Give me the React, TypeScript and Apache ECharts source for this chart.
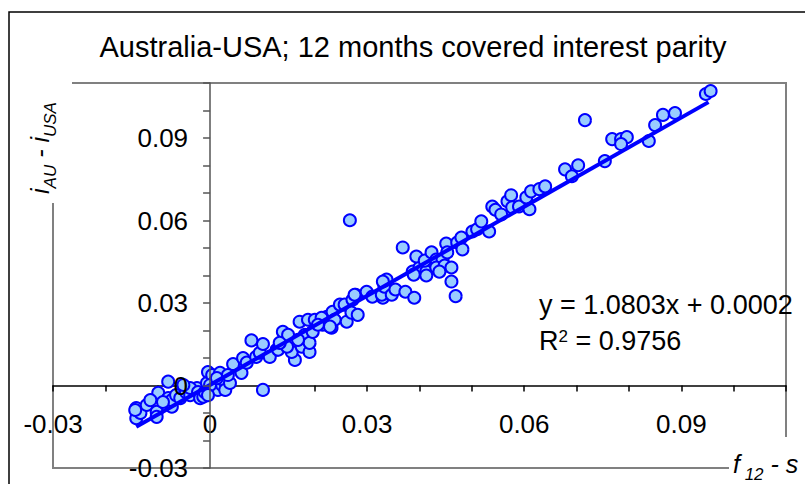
import React, { useEffect, useRef } from "react";
import * as echarts from "echarts";

// forward premium (f12 - s) vs interest differential (iAU - iUSA)
const points: [number, number][] = [
  [-0.0141, -0.0082], [-0.0141, -0.0119], [-0.0133, -0.01], [-0.0143, -0.0089], [-0.0121, -0.0071],
  [-0.0102, -0.0096], [-0.0102, -0.0114], [-0.0099, -0.0027], [-0.008, 0.0014], [-0.008, -0.0046],
  [-0.0073, -0.0077], [-0.0073, -0.0053], [-0.0065, -0.0035], [-0.0057, -0.0046], [-0.0046, -0.0024],
  [-0.0038, -0.0035], [-0.0025, -0.0009], [-0.0038, -0.0009], [-0.0023, -0.0024], [-0.0019, -0.0046],
  [-0.0013, -0.0041], [-0.0006, 0.0009], [-0.0004, 0.0049], [0.0004, 0.0038], [0.0006, -0.0009],
  [0.001, 0.0016], [0.0015, -0.0016], [0.0019, 0.0046], [0.0023, 0.0002], [0.0025, 0.002],
  [0.0029, -0.0016], [0.0038, 0.0009], [0.0044, 0.0078], [0.006, 0.0046], [0.0063, 0.01],
  [0.007, 0.0083], [0.0088, 0.0104], [0.0095, 0.0119], [0.0101, 0.0151], [0.0079, 0.0164],
  [0.0101, -0.0016], [0.0127, 0.013], [-0.0114, -0.0053], [-0.009, -0.006], [-0.0051, 0.0002],
  [-0.001, -0.0024], [0.0, 0.0002], [-0.0004, -0.0035], [0.0013, 0.0027], [0.0034, 0.0038],
  [0.0114, 0.0104], [0.013, 0.013], [0.0139, 0.0195], [0.0149, 0.0184], [0.0162, 0.0093],
  [0.0156, 0.0122], [0.0175, 0.0141], [0.0171, 0.0232], [0.0181, 0.0184], [0.019, 0.0122],
  [0.019, 0.0155], [0.0187, 0.0239], [0.02, 0.0239], [0.0196, 0.0195], [0.0215, 0.0221],
  [0.0223, 0.025], [0.0232, 0.021], [0.0234, 0.0268], [0.0238, 0.0239], [0.0248, 0.0294],
  [0.0261, 0.0232], [0.0257, 0.0294], [0.027, 0.0265], [0.0272, 0.0312], [0.0278, 0.033],
  [0.0147, 0.0141], [0.0133, 0.0155], [0.0213, 0.0246], [0.0229, 0.0214], [0.0282, 0.0257],
  [0.0206, 0.0221], [0.0168, 0.0166],
  [0.0267, 0.0601], [0.0276, 0.033], [0.0299, 0.0341], [0.031, 0.0323], [0.033, 0.0319],
  [0.0328, 0.033], [0.0333, 0.0359], [0.0337, 0.0385], [0.033, 0.0378], [0.0347, 0.033],
  [0.0354, 0.0349], [0.0373, 0.0341], [0.039, 0.0319], [0.0368, 0.0502], [0.0387, 0.0414],
  [0.04, 0.0429], [0.0413, 0.0414], [0.0394, 0.0469], [0.041, 0.0454], [0.0423, 0.0484],
  [0.0432, 0.0458], [0.0444, 0.0458], [0.0432, 0.0429], [0.0448, 0.0436], [0.0461, 0.0429],
  [0.0461, 0.0378], [0.0469, 0.0325], [0.0451, 0.0516], [0.0453, 0.0484], [0.0472, 0.052],
  [0.0482, 0.0495], [0.048, 0.0538], [0.0501, 0.056], [0.051, 0.0568], [0.0518, 0.0597],
  [0.0533, 0.056], [0.0539, 0.0651], [0.0545, 0.0639], [0.0413, 0.04], [0.0389, 0.0403],
  [0.0438, 0.0414],
  [0.0556, 0.0622], [0.0568, 0.067], [0.0575, 0.0692], [0.0577, 0.0648], [0.059, 0.0651],
  [0.0604, 0.0684], [0.061, 0.0641], [0.0613, 0.0706], [0.0629, 0.0714], [0.064, 0.0724],
  [0.0678, 0.0786], [0.0691, 0.0761], [0.0703, 0.0801], [0.0716, 0.0965], [0.0754, 0.0816],
  [0.0768, 0.0896], [0.0785, 0.0896], [0.0796, 0.0903], [0.0785, 0.0878], [0.0838, 0.0889],
  [0.085, 0.0947], [0.0865, 0.0984], [0.0888, 0.0991], [0.0947, 0.106], [0.0956, 0.1071],
];

// linear trend line y = 1.0803x + 0.0002
const trendSlope = 1.0803;
const trendIntercept = 0.0002;
const trendXRange = [-0.0141, 0.0952];

const axisMin = -0.03;
const axisMax = 0.11;
const axisStep = 0.01;

const titleText = "Australia-USA; 12 months covered interest parity";
const equationText = "y = 1.0803x + 0.0002";
const r2Value = "0.9756";

const FONT = "'Liberation Sans', Arial, sans-serif";

const GRID_LEFT = 53;
const GRID_TOP = 83;
const GRID_W = 733;
const GRID_H = 385;

function tickLabel(v: number): string {
  const k = Math.round(v * 100);
  if (k % 3 !== 0) return "";
  return k === 0 ? "0" : (k / 100).toFixed(2);
}

const bigStyle = {
  fontSize: 25,
  fontStyle: "italic",
  fontFamily: FONT,
  fill: "#000000",
  verticalAlign: "top",
  padding: [0, 0, 6, 0],
};
const subStyle = {
  fontSize: 17,
  fontStyle: "italic",
  fontFamily: FONT,
  fill: "#000000",
  verticalAlign: "bottom",
};

export default function App() {
  const ref = useRef<HTMLDivElement>(null);

  useEffect(() => {
    if (!ref.current) return;
    const chart = echarts.init(ref.current, undefined, { renderer: "svg" });
    const trend = trendXRange.map((x) => [x, trendSlope * x + trendIntercept]);
    const zeroFrac = (0 - axisMin) / (axisMax - axisMin);

    chart.setOption({
      animation: false,
      backgroundColor: "#ffffff",
      grid: {
        left: GRID_LEFT,
        top: GRID_TOP,
        width: GRID_W,
        height: GRID_H,
        containLabel: false,
        outerBoundsMode: "none",
        show: true,
        borderColor: "#808080",
        borderWidth: 2,
        backgroundColor: "transparent",
      },
      xAxis: {
        type: "value",
        position: "bottom",
        offset: -zeroFrac * GRID_H,
        min: axisMin,
        max: axisMax,
        interval: axisStep,
        axisLine: { onZero: false, lineStyle: { color: "#000000", width: 1.5 } },
        axisTick: { show: true, length: 6, lineStyle: { color: "#000000", width: 1.5 } },
        splitLine: { show: false },
        axisLabel: {
          formatter: tickLabel,
          fontSize: 26,
          fontFamily: FONT,
          color: "#000000",
          margin: 25,
          showMinLabel: true,
          showMaxLabel: true,
        },
      },
      yAxis: {
        type: "value",
        position: "left",
        offset: -zeroFrac * GRID_W,
        z: 5,
        min: axisMin,
        max: axisMax,
        interval: axisStep,
        axisLine: { onZero: false, lineStyle: { color: "#555555", width: 1.5 } },
        axisTick: { show: true, length: 7, lineStyle: { color: "#555555", width: 1.5 } },
        splitLine: { show: false },
        axisLabel: {
          formatter: tickLabel,
          fontSize: 26,
          fontFamily: FONT,
          color: "#000000",
          margin: 22,
          showMinLabel: true,
          showMaxLabel: true,
        },
      },
      series: [
        {
          type: "scatter",
          data: points,
          symbol: "circle",
          symbolSize: 12,
          itemStyle: { color: "#99ccff", borderColor: "#0000ff", borderWidth: 2, opacity: 1 },
          z: 2,
        },
        {
          type: "line",
          data: trend,
          showSymbol: false,
          symbol: "none",
          lineStyle: { color: "#0000ff", width: 4 },
          z: 3,
        },
      ],
      graphic: [
        {
          type: "rect",
          z: 90,
          shape: { x: 9, y: 12, width: 900, height: 600 },
          style: { fill: "none", stroke: "#000000", lineWidth: 1.5 },
        },
        {
          type: "rect",
          z: 91,
          shape: { x: 28, y: 76, width: 44, height: 127 },
          style: { fill: "#ffffff" },
        },
        {
          type: "rect",
          z: 91,
          shape: { x: 729, y: 437, width: 80, height: 50 },
          style: { fill: "#ffffff" },
        },
        {
          type: "text",
          z: 95,
          x: 413,
          y: 47,
          style: {
            text: titleText,
            fontSize: 29,
            fontFamily: FONT,
            fill: "#000000",
            align: "center",
            verticalAlign: "middle",
          },
        },
        {
          type: "text",
          z: 95,
          x: 539,
          y: 305,
          style: {
            text: equationText,
            fontSize: 27,
            fontFamily: FONT,
            fill: "#000000",
            align: "left",
            verticalAlign: "middle",
          },
        },
        {
          type: "text",
          z: 95,
          x: 539,
          y: 341,
          style: {
            text: "R{sup|2} = " + r2Value,
            fontSize: 27,
            fontFamily: FONT,
            fill: "#000000",
            align: "left",
            verticalAlign: "middle",
            rich: {
              sup: { fontSize: 17, fontFamily: FONT, fill: "#000000", verticalAlign: "top" },
            },
          },
        },
        {
          type: "text",
          z: 95,
          x: 43,
          y: 148,
          rotation: Math.PI / 2,
          style: {
            text: "{i|i}{s|AU}{i| - }{i|i}{s|USA}",
            fill: "#000000",
            align: "center",
            verticalAlign: "middle",
            rich: { i: bigStyle, s: subStyle },
          },
        },
        {
          type: "text",
          z: 95,
          x: 733,
          y: 467,
          style: {
            text: "{i|f}{s| 12}{i| - s}",
            fill: "#000000",
            align: "left",
            verticalAlign: "middle",
            rich: { i: bigStyle, s: subStyle },
          },
        },
      ],
    });

    return () => chart.dispose();
  }, []);

  return (
    <div
      ref={ref}
      style={{ position: "absolute", left: 0, top: 0, width: 805, height: 484 }}
    />
  );
}
